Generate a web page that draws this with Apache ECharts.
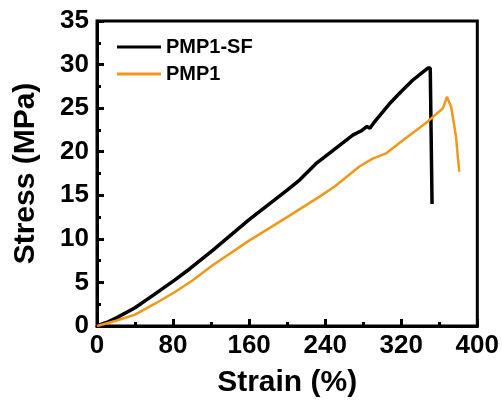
<!DOCTYPE html>
<html>
<head>
<meta charset="utf-8">
<script src="https://cdn.jsdelivr.net/npm/echarts@6/dist/echarts.min.js"></script>
<style>
  html, body { margin: 0; padding: 0; background: #fff; }
  #chart { width: 502px; height: 406px; }
</style>
</head>
<body>
<div id="chart"></div>
<script>
// stress-strain curves (strain %, stress MPa)
var seriesNames = ['PMP1-SF', 'PMP1'];
var pmp1sf = [
  [0, 0], [10, 0.4], [20, 0.9], [40, 2.1], [60, 3.6], [82, 5.3], [98, 6.6],
  [122, 8.7], [160, 12.2], [200, 15.6], [213, 16.75], [231, 18.7], [250, 20.3],
  [269, 21.9], [278, 22.4], [284, 22.9], [287, 22.7], [291, 23.3], [307.6, 25.5],
  [320, 26.9], [332, 28.2], [340, 28.9], [348, 29.6], [349.5, 29.7], [350.5, 29.6],
  [352.4, 14.0]
];
var pmp1 = [
  [0, 0], [20, 0.6], [40, 1.3], [60, 2.5], [82, 3.9], [100, 5.2], [122, 7.0],
  [160, 9.8], [200, 12.5], [232, 14.7], [250, 16.0], [276, 18.3], [290, 19.2],
  [304, 19.8], [318, 21.0], [346, 23.3], [364, 25.0], [366, 25.2], [368, 26.3],
  [370, 25.8], [372.4, 25.2], [375, 23.5], [377.6, 21.7], [381, 17.7]
];
var colors = ['#000000', '#F29718'];

var font = 'Liberation Sans, Arial, sans-serif';

function axisStyle() {
  return {
    axisLine: { show: true, lineStyle: { color: '#000', width: 3 } },
    axisTick: { show: true, inside: true, length: 7, lineStyle: { width: 3, color: '#000' } },
    minorTick: { show: true, splitNumber: 2, length: 4, lineStyle: { width: 3, color: '#000' } },
    splitLine: { show: false },
    minorSplitLine: { show: false }
  };
}

var xAx = axisStyle();
xAx.type = 'value';
xAx.min = 0; xAx.max = 400; xAx.interval = 80;
xAx.name = 'Strain (%)';
xAx.nameLocation = 'middle';
xAx.nameGap = 42;
xAx.nameTextStyle = { fontFamily: font, fontWeight: 'bold', fontSize: 30, color: '#000' };
xAx.axisLabel = { fontFamily: font, fontWeight: 'bold', fontSize: 26, color: '#000', margin: 7 };

var yAx = axisStyle();
yAx.type = 'value';
yAx.min = 0; yAx.max = 35; yAx.interval = 5;
yAx.name = 'Stress (MPa)';
yAx.nameLocation = 'middle';
yAx.nameGap = 56;
yAx.nameTextStyle = { fontFamily: font, fontWeight: 'bold', fontSize: 30, color: '#000' };
yAx.axisLabel = { fontFamily: font, fontWeight: 'bold', fontSize: 26, color: '#000', margin: 8 };

var chart = echarts.init(document.getElementById('chart'));
chart.setOption({
  animation: false,
  textStyle: { fontFamily: font },
  grid: {
    left: 97, top: 21, right: 24, bottom: 80,
    show: true, borderColor: '#000', borderWidth: 3
  },
  legend: {
    orient: 'vertical',
    left: 112, top: 32,
    icon: 'rect',
    itemWidth: 44, itemHeight: 3, itemGap: 7,
    data: seriesNames,
    textStyle: { fontFamily: font, fontWeight: 'bold', fontSize: 20, color: '#000' }
  },
  xAxis: xAx,
  yAxis: yAx,
  series: [
    {
      name: seriesNames[0], type: 'line', data: pmp1sf, symbol: 'none',
      itemStyle: { color: colors[0] },
      lineStyle: { color: colors[0], width: 3.5 }
    },
    {
      name: seriesNames[1], type: 'line', data: pmp1, symbol: 'none',
      itemStyle: { color: colors[1] },
      lineStyle: { color: colors[1], width: 2.5 }
    }
  ]
});
</script>
</body>
</html>
